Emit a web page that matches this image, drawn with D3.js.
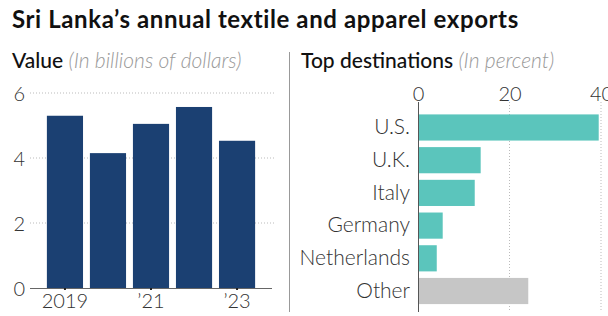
<!DOCTYPE html>
<html>
<head>
<meta charset="utf-8">
<script src="https://cdn.jsdelivr.net/npm/d3@7"></script>
<style>
  body { margin: 0; background: #fff; }
  svg { font-family: Lato, 'Open Sans', sans-serif; }
  .grid line { stroke: #bbb; stroke-dasharray: 1,2; }
  .tick text { fill: #333; font-weight: 300; }
</style>
</head>
<body>
<svg id="chart"></svg>
<script>
// left panel: export value, billions of dollars
const years = ['2019', '2020', '2021', '2022', '2023'];
const yearLabels = {'2019': '2019', '2021': '\u201921', '2023': '\u201923'};
const exportValues = [5.3, 4.15, 5.05, 5.57, 4.53];
const valueTicks = [0, 2, 4, 6];

// right panel: destinations, percent
const destinations = ['U.S.', 'U.K.', 'Italy', 'Germany', 'Netherlands', 'Other'];
const shares = [39.5, 13.7, 12.4, 5.4, 4.1, 24.1];
const shareTicks = [0, 20, 40];

const W = 608, H = 316;
const svg = d3.select('#chart').attr('width', W).attr('height', H);

svg.append('text')
    .attr('x', 12).attr('y', 28)
    .attr('font-size', 24).attr('font-weight', 700).attr('fill', '#111')
    .attr('letter-spacing', 0.6)
    .text('Sri Lanka\u2019s annual textile and apparel exports');

// panel headings
const h1 = svg.append('text').attr('x', 12).attr('y', 68).attr('font-size', 21);
h1.append('tspan').attr('fill', '#111').attr('font-weight', 500).text('Value ');
h1.append('tspan').attr('fill', '#999').attr('font-style', 'italic').attr('font-weight', 300)
  .text('(In billions of dollars)');

const h2 = svg.append('text').attr('x', 301).attr('y', 68).attr('font-size', 21);
h2.append('tspan').attr('fill', '#111').attr('font-weight', 500).text('Top destinations ');
h2.append('tspan').attr('fill', '#999').attr('font-style', 'italic').attr('font-weight', 300)
  .text('(In percent)');

// divider
svg.append('line')
    .attr('x1', 289.5).attr('x2', 289.5).attr('y1', 52).attr('y2', 312)
    .attr('stroke', '#999').attr('stroke-width', 1);

// ---- left bar chart ----
const x = d3.scaleBand().domain(years).range([40, 262]).paddingInner(0.16).paddingOuter(0.16);
const y = d3.scaleLinear().domain([0, 6]).range([288, 93]);

svg.append('g')
    .attr('class', 'grid')
    .selectAll('line')
    .data(valueTicks.filter(d => d > 0))
  .enter().append('line')
    .attr('x1', 30).attr('x2', 274)
    .attr('y1', d => y(d)).attr('y2', d => y(d));

svg.append('g')
    .attr('transform', 'translate(25,0)')
    .call(d3.axisLeft(y).tickValues(valueTicks).tickFormat(d3.format('d')).tickSize(0).tickPadding(0))
    .call(g => g.select('.domain').remove())
    .call(g => g.selectAll('text').attr('font-size', 20).attr('font-family', 'Lato, sans-serif').attr('dy', '0.36em'));

svg.append('g')
  .selectAll('rect')
    .data(exportValues)
  .enter().append('rect')
    .attr('x', (d, i) => x(years[i]))
    .attr('width', x.bandwidth())
    .attr('y', d => y(d))
    .attr('height', d => y(0) - y(d))
    .attr('fill', '#1b4072');

svg.append('g')
    .attr('transform', 'translate(0,' + y(0) + ')')
    .call(d3.axisBottom(x).tickSize(2).tickFormat(d => yearLabels[d] || ''))
    .call(g => g.select('.domain').attr('d', 'M30,0.5H272').attr('stroke', '#666'))
    .call(g => g.selectAll('.tick line').attr('stroke', '#222').attr('stroke-width', 2)
      .attr('display', d => yearLabels[d] ? null : 'none'))
    .call(g => g.selectAll('text').attr('font-size', 20).attr('font-family', 'Lato, sans-serif')
      .attr('dy', null).attr('y', 20));

// ---- right bar chart ----
const xs = d3.scaleLinear().domain([0, 40]).range([418, 601]);
const ys = d3.scaleBand().domain(destinations).range([109.5, 309]).paddingInner(0.2).paddingOuter(0.15);

svg.append('g')
    .attr('class', 'grid')
    .selectAll('line')
    .data(shareTicks.filter(d => d > 0))
  .enter().append('line')
    .attr('x1', d => xs(d)).attr('x2', d => xs(d))
    .attr('y1', 102).attr('y2', 312);

svg.append('g')
    .attr('transform', 'translate(0,101)')
    .call(d3.axisTop(xs).tickValues(shareTicks).tickSize(0).tickPadding(0))
    .call(g => g.select('.domain').remove())
    .call(g => g.selectAll('text').attr('font-size', 20).attr('font-family', 'Lato, sans-serif'));

svg.append('g')
  .selectAll('rect')
    .data(shares)
  .enter().append('rect')
    .attr('x', xs(0))
    .attr('y', (d, i) => ys(destinations[i]))
    .attr('width', d => xs(d) - xs(0))
    .attr('height', ys.bandwidth())
    .attr('fill', (d, i) => destinations[i] === 'Other' ? '#c6c6c6' : '#5bc5bc');

svg.append('g')
    .attr('transform', 'translate(418,0)')
    .call(d3.axisLeft(ys).tickSize(0).tickPadding(8))
    .call(g => g.select('.domain').attr('d', 'M0.5,102V312').attr('stroke', '#555'))
    .call(g => g.selectAll('text').attr('font-size', 21).attr('font-family', 'Lato, sans-serif'));
</script>
</body>
</html>
